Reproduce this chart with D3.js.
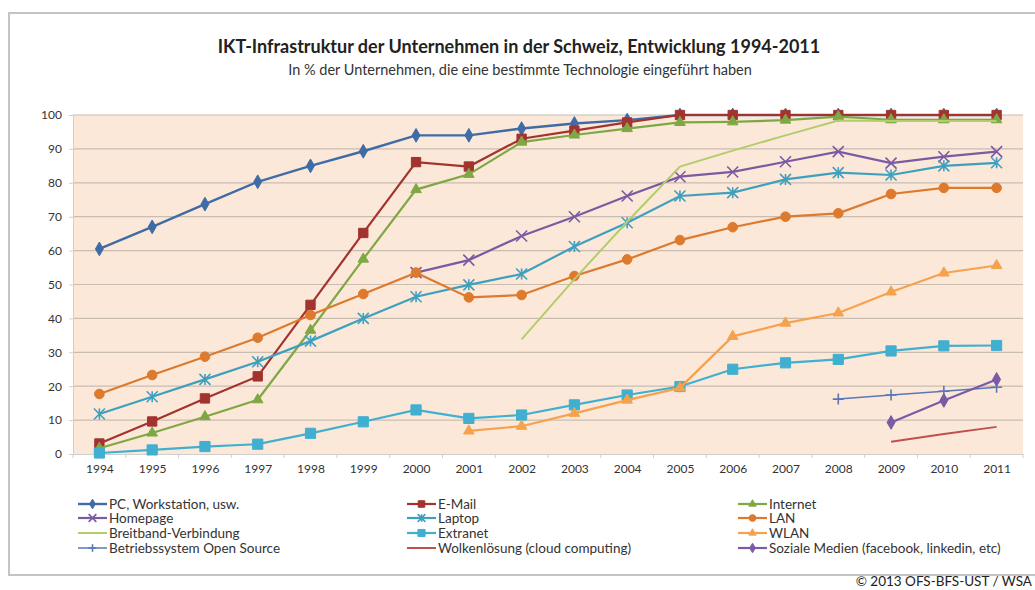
<!DOCTYPE html>
<html>
<head>
<meta charset="utf-8">
<script src="https://cdn.jsdelivr.net/npm/d3@7"></script>
<style>
  body { margin: 0; background: #fff; }
  svg { display: block; font-family: Lato, "Open Sans", sans-serif; }
</style>
</head>
<body>
<div id="chart"></div>
<script>
// years on the category axis
var years = [1994, 1995, 1996, 1997, 1998, 1999, 2000, 2001, 2002, 2003, 2004, 2005, 2006, 2007, 2008, 2009, 2010, 2011];
var yTicks = [0, 10, 20, 30, 40, 50, 60, 70, 80, 90, 100];

// values in %, null = no survey value
var pc        = [60.5, 67, 73.7, 80.3, 85, 89.3, 94, 94, 96, 97.5, 98.5, 100, 100, 100, 100, 100, 100, 100];
var email     = [3.1, 9.6, 16.4, 22.9, 44, 65.2, 86.1, 84.8, 93, 95.4, 97.8, 100, 100, 100, 100, 100, 100, 100];
var internet  = [1.7, 6.2, 11, 16, 36.5, 57.5, 78, 82.5, 92, 94.1, 96, 97.8, 98, 98.5, 99.5, 98.6, 98.6, 98.6];
var homepage  = [null, null, null, null, null, null, 53.5, 57.2, 64.3, 70, 76.1, 81.8, 83.2, 86.2, 89.2, 85.8, 87.7, 89.2];
var laptop    = [11.8, 16.9, 22, 27.2, 33.3, 40, 46.4, 49.9, 53.1, 61.2, 68.2, 76.1, 77.1, 81, 83, 82.3, 85, 85.9];
var lan       = [17.7, 23.3, 28.7, 34.3, 41, 47.2, 53.5, 46.2, 46.9, 52.5, 57.4, 63.1, 66.9, 70, 71, 76.7, 78.5, 78.5];
var breitband = [null, null, null, null, null, null, null, null, 33.8, 51.6, 68.5, 84.8, 89.5, 94, 98.4, 98.2, 98.2, 98.2];
var extranet  = [0.3, 1.2, 2.2, 2.9, 6.1, 9.5, 13, 10.5, 11.5, 14.5, 17.4, 19.9, 25, 26.9, 27.9, 30.4, 31.9, 32];
var wlan      = [null, null, null, null, null, null, null, 6.8, 8.2, 12, 15.9, 19.5, 34.7, 38.6, 41.6, 47.8, 53.4, 55.6];
var opensrc   = [null, null, null, null, null, null, null, null, null, null, null, null, null, null, 16.2, 17.4, 18.5, 19.7];
var cloud     = [null, null, null, null, null, null, null, null, null, null, null, null, null, null, null, 3.6, 5.9, 8];
var social    = [null, null, null, null, null, null, null, null, null, null, null, null, null, null, null, 9.3, 15.8, 22];

var seriesNames = ["PC, Workstation, usw.", "E-Mail", "Internet", "Homepage", "Laptop", "LAN",
    "Breitband-Verbindung", "Extranet", "WLAN", "Betriebssystem Open Source",
    "Wolkenlösung (cloud computing)", "Soziale Medien (facebook, linkedin, etc)"];
var seriesValues = [pc, email, internet, homepage, laptop, lan, breitband, extranet, wlan, opensrc, cloud, social];

// look of each series
var styles = [
    { color: "#3F6CA6", marker: "diamond", size: 11, width: 2.4 },
    { color: "#A2332F", marker: "square", size: 11, width: 2.2 },
    { color: "#7FA844", marker: "triangle", size: 11, width: 2.2 },
    { color: "#7B5AA2", marker: "cross", size: 11, width: 2.2 },
    { color: "#3EA0BE", marker: "star", size: 11, width: 2.2 },
    { color: "#DD7A2E", marker: "circle", size: 11, width: 2.2 },
    { color: "#B2CD6A", marker: null, size: 0, width: 2.0 },
    { color: "#41AFCF", marker: "square", size: 12, width: 2.2 },
    { color: "#F5A24E", marker: "triangle", size: 11, width: 2.2 },
    { color: "#5878B8", marker: "plus", size: 11, width: 1.5 },
    { color: "#C0504D", marker: null, size: 0, width: 2.0 },
    { color: "#7B5AA6", marker: "diamond", size: 11, width: 2.2 }
];

var W = 1035, H = 590;
var plot = { left: 73, right: 1023, top: 115, bottom: 454 };

var svg = d3.select("#chart").append("svg")
    .attr("width", W)
    .attr("height", H);

// frame of the chart
svg.append("rect")
    .attr("x", 9).attr("y", 13)
    .attr("width", 1040).attr("height", 562)
    .attr("fill", "#fff")
    .attr("stroke", "#c4c4c4")
    .attr("stroke-width", 2);

svg.append("text")
    .attr("x", 519).attr("y", 53)
    .attr("text-anchor", "middle")
    .attr("font-weight", "bold")
    .attr("font-size", 18)
    .attr("fill", "#222")
    .text("IKT-Infrastruktur der Unternehmen in der Schweiz, Entwicklung 1994-2011");

svg.append("text")
    .attr("x", 520).attr("y", 75)
    .attr("text-anchor", "middle")
    .attr("font-size", 14.5)
    .attr("fill", "#333")
    .text("In % der Unternehmen, die eine bestimmte Technologie eingeführt haben");

var x = d3.scalePoint()
    .domain(years)
    .range([plot.left, plot.right])
    .padding(0.5);

var y = d3.scaleLinear()
    .domain([0, 100])
    .range([plot.bottom, plot.top]);

svg.append("rect")
    .attr("x", plot.left).attr("y", plot.top)
    .attr("width", plot.right - plot.left)
    .attr("height", plot.bottom - plot.top)
    .attr("fill", "#FCE8D8");

// gridlines
svg.append("g")
    .selectAll("line")
    .data(yTicks.filter(function(d){ return d > 0; }))
    .enter().append("line")
    .attr("x1", plot.left).attr("x2", plot.right)
    .attr("y1", function(d){ return y(d); })
    .attr("y2", function(d){ return y(d); })
    .attr("stroke", "#C9BDB2")
    .attr("stroke-width", 1.2);

// y axis
var yAxis = svg.append("g")
    .attr("transform", "translate(" + plot.left + ",0)")
    .call(d3.axisLeft(y).tickValues(yTicks).tickSize(4).tickPadding(7));
yAxis.select(".domain").attr("stroke", "#cfcfcf");
yAxis.selectAll(".tick line").attr("stroke", "#cfcfcf");
yAxis.selectAll("text").attr("font-size", 12).attr("fill", "#333").attr("font-family", "Lato, sans-serif");

// x axis, ticks sit between the categories
var step = x.step();
var xAxis = svg.append("g")
    .attr("transform", "translate(0," + plot.bottom + ")")
    .call(d3.axisBottom(x).tickSize(0).tickPadding(10));
xAxis.select(".domain").attr("stroke", "#cfcfcf").attr("stroke-width", 1.2);
xAxis.selectAll("text").attr("font-size", 12).attr("fill", "#333").attr("font-family", "Lato, sans-serif");
xAxis.selectAll(".sep")
    .data(years.concat([null]))
    .enter().append("line")
    .attr("class", "sep")
    .attr("x1", function(d, i){ return plot.left + i * step; })
    .attr("x2", function(d, i){ return plot.left + i * step; })
    .attr("y1", 0).attr("y2", 4)
    .attr("stroke", "#cfcfcf");

function markerPath(type, size){
    var s = size / 2;
    if (type === "diamond") return d3.symbol(d3.symbolDiamond, size * size * 0.45)();
    if (type === "square") return d3.symbol(d3.symbolSquare, size * size * 0.72)();
    if (type === "triangle") return d3.symbol(d3.symbolTriangle, size * size * 0.4)();
    if (type === "circle") return d3.symbol(d3.symbolCircle, size * size * 0.6)();
    if (type === "cross") return "M" + (-s) + "," + (-s) + "L" + s + "," + s + "M" + (-s) + "," + s + "L" + s + "," + (-s);
    if (type === "plus") return "M" + (-s) + ",0L" + s + ",0M0," + (-s) + "L0," + s;
    if (type === "star") return "M" + (-s) + "," + (-s) + "L" + s + "," + s + "M" + (-s) + "," + s + "L" + s + "," + (-s) + "M0," + (-s) + "L0," + s;
    return "";
}

function drawMarker(g, type, size, color){
    var open = (type === "cross" || type === "plus" || type === "star");
    g.append("path")
        .attr("d", markerPath(type, size))
        .attr("fill", open ? "none" : color)
        .attr("stroke", color)
        .attr("stroke-width", open ? 1.6 : 1);
}

var line = d3.line()
    .defined(function(d){ return d.v !== null; })
    .x(function(d){ return x(d.year); })
    .y(function(d){ return y(d.v); });

var seriesData = seriesValues.map(function(vals, i){
    return {
        name: seriesNames[i],
        style: styles[i],
        points: years.map(function(yr, j){ return { year: yr, v: vals[j] }; })
    };
});

var layer = svg.append("g");
seriesData.forEach(function(s){
    var g = layer.append("g");
    g.append("path")
        .datum(s.points)
        .attr("fill", "none")
        .attr("stroke", s.style.color)
        .attr("stroke-width", s.style.width)
        .attr("d", line);

    if (s.style.marker) {
        s.points.filter(function(p){ return p.v !== null; }).forEach(function(p){
            var m = g.append("g")
                .attr("transform", "translate(" + x(p.year) + "," + y(p.v) + ")");
            drawMarker(m, s.style.marker, s.style.size, s.style.color);
        });
    }
});

// legend, three columns
var legendCols = [78, 407, 738];
var legendRows = [504, 518, 533, 548];
var legend = svg.append("g");
seriesData.forEach(function(s, i){
    var col = i % 3, row = Math.floor(i / 3);
    var g = legend.append("g")
        .attr("transform", "translate(" + legendCols[col] + "," + legendRows[row] + ")");
    g.append("line")
        .attr("x1", 0).attr("x2", 29)
        .attr("y1", 0).attr("y2", 0)
        .attr("stroke", s.style.color)
        .attr("stroke-width", s.style.width);
    if (s.style.marker) {
        var m = g.append("g").attr("transform", "translate(14.5,0)");
        drawMarker(m, s.style.marker, s.style.size * 0.7, s.style.color);
    }
    g.append("text")
        .attr("x", 31).attr("y", 4.5)
        .attr("font-size", 13.5)
        .attr("fill", "#333")
        .text(s.name);
});

svg.append("text")
    .attr("x", 1032).attr("y", 586)
    .attr("text-anchor", "end")
    .attr("font-size", 13.5)
    .attr("fill", "#222")
    .text("© 2013 OFS-BFS-UST / WSA");
</script>
</body>
</html>
